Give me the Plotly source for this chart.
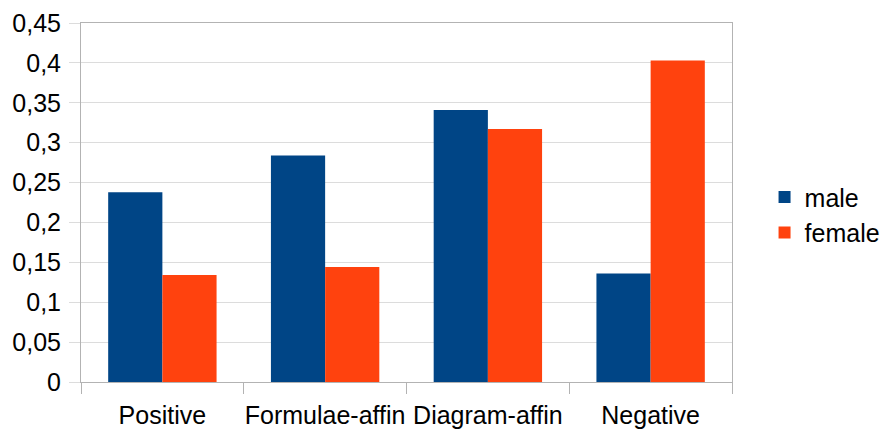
import plotly.graph_objects as go

categories = ["Positive", "Formulae-affin", "Diagram-affin", "Negative"]
male = [0.238, 0.284, 0.341, 0.136]
female = [0.134, 0.144, 0.317, 0.403]

fig = go.Figure()
fig.add_trace(go.Bar(x=categories, y=male, name="male", marker={"color": "#004586", "line": {"width": 0}}))
fig.add_trace(go.Bar(x=categories, y=female, name="female", marker={"color": "#ff420e", "line": {"width": 0}}))

fig.update_layout(
    width=881,
    height=430,
    margin={"l": 81, "r": 149, "t": 23, "b": 48, "autoexpand": False},
    plot_bgcolor="white",
    paper_bgcolor="white",
    barmode="group",
    bargap=0.334,
    bargroupgap=0,
    separators=", ",
    font={"family": "Liberation Sans, Arial, sans-serif", "size": 25, "color": "#000000"},
    legend={
        "x": 1.05,
        "y": 0.466,
        "xanchor": "left",
        "yanchor": "middle",
        "font": {"size": 25},
        "itemwidth": 30,
        "tracegroupgap": 0,
    },
)
fig.update_xaxes(
    automargin=False,
    showgrid=False,
    showline=True,
    linecolor="#b3b3b3",
    mirror=True,
    tickson="boundaries",
    ticks="outside",
    ticklen=11,
    tickcolor="#b3b3b3",
    tickangle=0,
    ticklabelstandoff=11,
)
fig.update_yaxes(
    automargin=False,
    range=[0, 0.45],
    dtick=0.05,
    showgrid=True,
    gridcolor="#dcdcdc",
    showline=True,
    linecolor="#b3b3b3",
    mirror=True,
    ticks="outside",
    ticklen=11,
    tickcolor="#dcdcdc",
    zeroline=False,
    ticklabelstandoff=3,
)

# drop the default body margin so the 881x430 figure fills the window exactly
fig.write_html(
    "out.html",
    config={"displayModeBar": False},
    post_script="document.body.style.margin = '0';",
)
